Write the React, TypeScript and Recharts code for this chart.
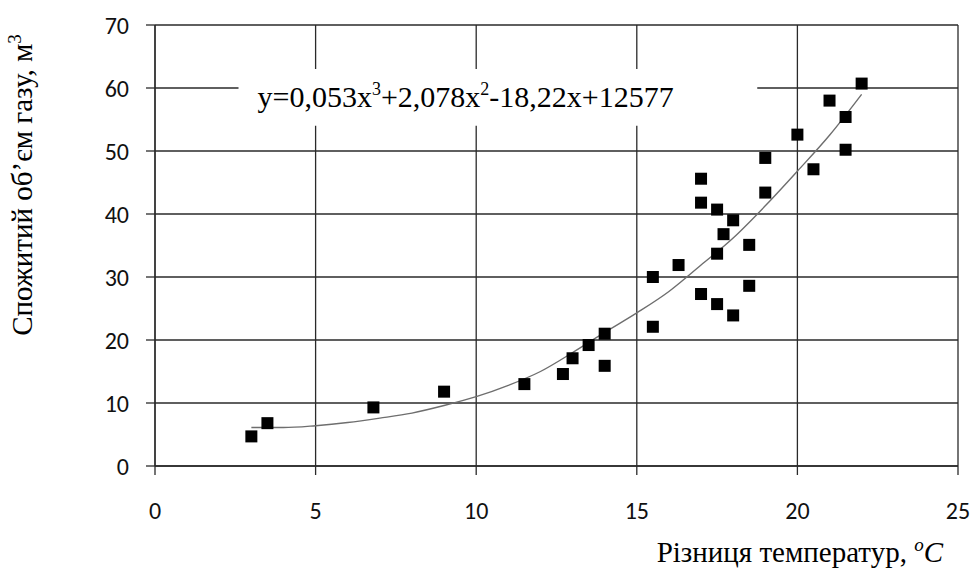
import React from "react";
import {
  ComposedChart,
  XAxis,
  YAxis,
  CartesianGrid,
  Scatter,
  Line,
  ReferenceArea,
} from "recharts";

// Measured points: temperature difference (°C) vs gas volume (m³)
const pointX = [3, 3.5, 6.8, 9, 11.5, 12.7, 13, 13.5, 14, 14, 15.5, 15.5, 16.3, 17, 17, 17, 17.5, 17.5, 17.5, 17.7, 18, 18, 18.5, 18.5, 19, 19, 20, 20.5, 21, 21.5, 21.5, 22];
const pointY = [4.7, 6.8, 9.3, 11.8, 13.0, 14.6, 17.1, 19.2, 21.0, 15.9, 30.0, 22.1, 31.9, 45.6, 41.8, 27.3, 40.7, 33.7, 25.7, 36.8, 39.0, 23.9, 35.1, 28.6, 43.4, 48.9, 52.6, 47.1, 58.0, 55.4, 50.2, 60.7];

// Trend line
const trendX = [3, 4, 5, 6, 7, 8, 9, 10, 11, 12, 13, 14, 15, 16, 17, 18, 19, 20, 21, 22];
const trendY = [6.1, 6.1, 6.4, 6.9, 7.6, 8.4, 9.6, 11.0, 12.8, 15.0, 18.0, 21.2, 24.3, 27.7, 31.9, 36.2, 41.3, 46.8, 52.5, 59.0];

const xTicks = [0, 5, 10, 15, 20, 25];
const yTicks = [0, 10, 20, 30, 40, 50, 60, 70];

const points = pointX.map((x, i) => ({ x, y: pointY[i] }));
const trend = trendX.map((x, i) => ({ x, y: trendY[i] }));

const SERIF = "'Liberation Serif', 'Times New Roman', serif";
const SANS = "Carlito, Calibri, Lato, sans-serif";

const SquareDot = (props: any) => {
  const { cx, cy } = props;
  if (cx == null || cy == null) return null;
  return <rect x={cx - 6} y={cy - 6} width={12} height={12} fill="#000" />;
};

const EquationLabel = (props: any) => {
  const vb = props.viewBox || {};
  const x = (vb.x || 0) + 19;
  const y = (vb.y || 0) + 38;
  return (
    <text x={x} y={y} fontFamily={SERIF} fontSize={30} fill="#000">
      <tspan>y=0,053x</tspan>
      <tspan fontSize={18} dy={-12}>3</tspan>
      <tspan dy={12}>+2,078x</tspan>
      <tspan fontSize={18} dy={-12}>2</tspan>
      <tspan dy={12}>-18,22x+12577</tspan>
    </text>
  );
};

const XLabel = () => (
  <text x={943} y={562} textAnchor="end" fontFamily={SERIF} fontSize={29} fill="#000">
    <tspan>Різниця температур, </tspan>
    <tspan fontStyle="italic" fontSize={19} dy={-11}>o</tspan>
    <tspan fontStyle="italic" dy={11}>C</tspan>
  </text>
);

const YLabel = () => {
  const cx = 32;
  const cy = 185;
  return (
    <text
      x={cx}
      y={cy}
      transform={`rotate(-90 ${cx} ${cy})`}
      textAnchor="middle"
      fontFamily={SERIF}
      fontSize={29}
      fill="#000"
    >
      <tspan>Спожитий об’єм газу, м</tspan>
      <tspan fontSize={19} dy={-11}>3</tspan>
    </text>
  );
};

export default function App() {
  return (
    <div style={{ position: "absolute", left: 0, top: 0, background: "#fff" }}>
      <ComposedChart
        width={973}
        height={569}
        margin={{ top: 25, right: 15, bottom: 63, left: 95 }}
      >
        <CartesianGrid stroke="#2a2a2a" strokeWidth={1.3} />
        <XAxis
          type="number"
          dataKey="x"
          domain={[0, 25]}
          ticks={xTicks}
          interval={0}
          height={40}
          tickSize={9}
          tickMargin={27}
          axisLine={{ stroke: "#2a2a2a", strokeWidth: 1.3 }}
          tickLine={{ stroke: "#2a2a2a", strokeWidth: 1.3 }}
          tick={{ fontFamily: SANS, fontSize: 24, fill: "#111" }}
          label={{ content: XLabel }}
        />
        <YAxis
          type="number"
          domain={[0, 70]}
          ticks={yTicks}
          interval={0}
          width={60}
          tickSize={9}
          tickMargin={17}
          axisLine={{ stroke: "#2a2a2a", strokeWidth: 1.3 }}
          tickLine={{ stroke: "#2a2a2a", strokeWidth: 1.3 }}
          tick={{ fontFamily: SANS, fontSize: 24, fill: "#111" }}
          label={{ content: YLabel }}
        />
        <ReferenceArea
          x1={2.6}
          x2={18.75}
          y1={54}
          y2={63}
          fill="#fff"
          fillOpacity={1}
          stroke="none"
          label={{ content: EquationLabel }}
        />
        <Line
          data={trend}
          dataKey="y"
          type="monotone"
          stroke="#6e6e6e"
          strokeWidth={1.4}
          dot={false}
          activeDot={false}
          isAnimationActive={false}
        />
        <Scatter
          data={points}
          dataKey="y"
          shape={SquareDot}
          isAnimationActive={false}
        />
      </ComposedChart>
    </div>
  );
}
